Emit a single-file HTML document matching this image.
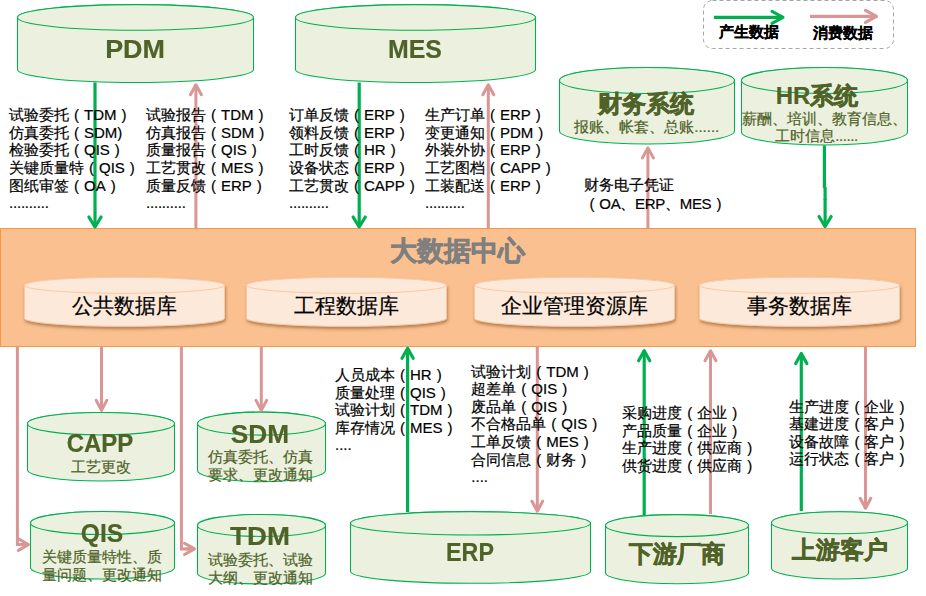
<!DOCTYPE html>
<html><head><meta charset="utf-8"><style>
html,body{margin:0;padding:0;background:#fff;width:926px;height:596px;overflow:hidden;}
body{position:relative;font-family:"Liberation Sans",sans-serif;}
svg{position:absolute;left:0;top:0;}
.t{position:absolute;white-space:nowrap;-webkit-text-stroke:0.2px currentColor;}
.p{display:inline-block;width:1em;text-align:center;}
</style></head><body>
<svg width="926" height="596" viewBox="0 0 926 596">
<defs><filter id="sh" x="-10%" y="-30%" width="120%" height="180%"><feDropShadow dx="0.8" dy="2.2" stdDeviation="1.4" flood-color="#7a4a20" flood-opacity="0.55"/></filter></defs>
<rect x="703.5" y="0.5" width="190" height="48" rx="9" ry="9" fill="none" stroke="#a6a6a6" stroke-width="1" stroke-dasharray="4,3"/>
<line x1="714" y1="17.4" x2="783.00" y2="17.40" stroke="#00b050" stroke-width="3.1"/><polyline points="772.00,23.40 783.00,17.40 772.00,11.40" fill="none" stroke="#00b050" stroke-width="3.1" stroke-linecap="round" stroke-linejoin="round"/>
<line x1="810" y1="16.4" x2="876.50" y2="16.40" stroke="#d99694" stroke-width="3.1"/><polyline points="865.50,22.40 876.50,16.40 865.50,10.40" fill="none" stroke="#d99694" stroke-width="3.1" stroke-linecap="round" stroke-linejoin="round"/>
<path d="M17.5,17.4 L17.5,69.6 A118.0,12.8 0 0 0 253.5,69.6 L253.5,17.4 A118.0,12.8 0 0 0 17.5,17.4 Z" fill="#ebf1de" stroke="#00b050" stroke-width="1.05" /><ellipse cx="135.5" cy="17.4" rx="118.0" ry="12.8" fill="#ebf1de" stroke="#00b050" stroke-width="1.05"/>
<path d="M295.5,17.4 L295.5,69.6 A120.0,12.8 0 0 0 535.5,69.6 L535.5,17.4 A120.0,12.8 0 0 0 295.5,17.4 Z" fill="#ebf1de" stroke="#00b050" stroke-width="1.05" /><ellipse cx="415.5" cy="17.4" rx="120.0" ry="12.8" fill="#ebf1de" stroke="#00b050" stroke-width="1.05"/>
<path d="M559.5,80.5 L559.5,131 A87.5,13 0 0 0 734.5,131 L734.5,80.5 A87.5,13 0 0 0 559.5,80.5 Z" fill="#ebf1de" stroke="#00b050" stroke-width="1.05" /><ellipse cx="647.0" cy="80.5" rx="87.5" ry="13" fill="#ebf1de" stroke="#00b050" stroke-width="1.05"/>
<path d="M741.5,80.5 L741.5,132 A83.0,13 0 0 0 907.5,132 L907.5,80.5 A83.0,13 0 0 0 741.5,80.5 Z" fill="#ebf1de" stroke="#00b050" stroke-width="1.05" /><ellipse cx="824.5" cy="80.5" rx="83.0" ry="13" fill="#ebf1de" stroke="#00b050" stroke-width="1.05"/>
<rect x="0.5" y="228.5" width="915" height="118" fill="#fac090" stroke="#f79646" stroke-width="1"/>
<path d="M24.5,285.3 L24.5,318.3 A100.0,8 0 0 0 224.5,318.3 L224.5,285.3 A100.0,8 0 0 0 24.5,285.3 Z" fill="#fde9d9" stroke="#f9c9a4" stroke-width="1" filter="url(#sh)"/><ellipse cx="124.5" cy="285.3" rx="100.0" ry="8" fill="#fde9d9" stroke="#f9c9a4" stroke-width="1"/>
<path d="M246.5,285.3 L246.5,318.3 A100.0,8 0 0 0 446.5,318.3 L446.5,285.3 A100.0,8 0 0 0 246.5,285.3 Z" fill="#fde9d9" stroke="#f9c9a4" stroke-width="1" filter="url(#sh)"/><ellipse cx="346.5" cy="285.3" rx="100.0" ry="8" fill="#fde9d9" stroke="#f9c9a4" stroke-width="1"/>
<path d="M474.5,285.3 L474.5,318.3 A100.0,8 0 0 0 674.5,318.3 L674.5,285.3 A100.0,8 0 0 0 474.5,285.3 Z" fill="#fde9d9" stroke="#f9c9a4" stroke-width="1" filter="url(#sh)"/><ellipse cx="574.5" cy="285.3" rx="100.0" ry="8" fill="#fde9d9" stroke="#f9c9a4" stroke-width="1"/>
<path d="M699.5,285.3 L699.5,318.3 A100.0,8 0 0 0 899.5,318.3 L899.5,285.3 A100.0,8 0 0 0 699.5,285.3 Z" fill="#fde9d9" stroke="#f9c9a4" stroke-width="1" filter="url(#sh)"/><ellipse cx="799.5" cy="285.3" rx="100.0" ry="8" fill="#fde9d9" stroke="#f9c9a4" stroke-width="1"/>
<path d="M27.5,423.7 L27.5,469.8 A73.5,11.2 0 0 0 174.5,469.8 L174.5,423.7 A73.5,11.2 0 0 0 27.5,423.7 Z" fill="#ebf1de" stroke="#00b050" stroke-width="1.05" /><ellipse cx="101.0" cy="423.7" rx="73.5" ry="11.2" fill="#ebf1de" stroke="#00b050" stroke-width="1.05"/>
<path d="M197.5,423.6 L197.5,470.2 A64.0,11.5 0 0 0 325.5,470.2 L325.5,423.6 A64.0,11.5 0 0 0 197.5,423.6 Z" fill="#ebf1de" stroke="#00b050" stroke-width="1.05" /><ellipse cx="261.5" cy="423.6" rx="64.0" ry="11.5" fill="#ebf1de" stroke="#00b050" stroke-width="1.05"/>
<path d="M30.5,523 L30.5,567.5 A72.0,11.5 0 0 0 174.5,567.5 L174.5,523 A72.0,11.5 0 0 0 30.5,523 Z" fill="#ebf1de" stroke="#00b050" stroke-width="1.05" /><ellipse cx="102.5" cy="523" rx="72.0" ry="11.5" fill="#ebf1de" stroke="#00b050" stroke-width="1.05"/>
<path d="M197.5,525.4 L197.5,572.9 A64.0,11 0 0 0 325.5,572.9 L325.5,525.4 A64.0,11 0 0 0 197.5,525.4 Z" fill="#ebf1de" stroke="#00b050" stroke-width="1.05" /><ellipse cx="261.5" cy="525.4" rx="64.0" ry="11" fill="#ebf1de" stroke="#00b050" stroke-width="1.05"/>
<path d="M350.5,523.3 L350.5,571.6 A120.0,11.7 0 0 0 590.5,571.6 L590.5,523.3 A120.0,11.7 0 0 0 350.5,523.3 Z" fill="#ebf1de" stroke="#00b050" stroke-width="1.05" /><ellipse cx="470.5" cy="523.3" rx="120.0" ry="11.7" fill="#ebf1de" stroke="#00b050" stroke-width="1.05"/>
<path d="M605.5,525.6 L605.5,572.7 A71.5,11 0 0 0 748.5,572.7 L748.5,525.6 A71.5,11 0 0 0 605.5,525.6 Z" fill="#ebf1de" stroke="#00b050" stroke-width="1.05" /><ellipse cx="677.0" cy="525.6" rx="71.5" ry="11" fill="#ebf1de" stroke="#00b050" stroke-width="1.05"/>
<path d="M771.5,522.7 L771.5,568 A68.0,11 0 0 0 907.5,568 L907.5,522.7 A68.0,11 0 0 0 771.5,522.7 Z" fill="#ebf1de" stroke="#00b050" stroke-width="1.05" /><ellipse cx="839.5" cy="522.7" rx="68.0" ry="11" fill="#ebf1de" stroke="#00b050" stroke-width="1.05"/>
<line x1="95" y1="82.5" x2="95.00" y2="227.00" stroke="#00b050" stroke-width="3.2"/><polyline points="88.90,217.00 95.00,227.00 101.10,217.00" fill="none" stroke="#00b050" stroke-width="3.2" stroke-linecap="round" stroke-linejoin="round"/>
<line x1="359.2" y1="82.5" x2="359.20" y2="227.00" stroke="#00b050" stroke-width="3.2"/><polyline points="353.10,217.00 359.20,227.00 365.30,217.00" fill="none" stroke="#00b050" stroke-width="3.2" stroke-linecap="round" stroke-linejoin="round"/>
<polyline points="824.4,145.5 824.4,187 825.1,188 825.1,200" fill="none" stroke="#00b050" stroke-width="3.2"/>
<line x1="825.1" y1="199" x2="825.10" y2="226.50" stroke="#00b050" stroke-width="3.2"/><polyline points="819.00,216.50 825.10,226.50 831.20,216.50" fill="none" stroke="#00b050" stroke-width="3.2" stroke-linecap="round" stroke-linejoin="round"/>
<line x1="407.6" y1="512" x2="407.60" y2="348.30" stroke="#00b050" stroke-width="3.2"/><polyline points="413.20,358.30 407.60,348.30 402.00,358.30" fill="none" stroke="#00b050" stroke-width="3.2" stroke-linecap="round" stroke-linejoin="round"/>
<line x1="644.2" y1="515.5" x2="644.20" y2="350.70" stroke="#00b050" stroke-width="3.2"/><polyline points="649.80,360.70 644.20,350.70 638.60,360.70" fill="none" stroke="#00b050" stroke-width="3.2" stroke-linecap="round" stroke-linejoin="round"/>
<line x1="801.3" y1="511" x2="801.30" y2="353.50" stroke="#00b050" stroke-width="3.2"/><polyline points="806.90,363.50 801.30,353.50 795.70,363.50" fill="none" stroke="#00b050" stroke-width="3.2" stroke-linecap="round" stroke-linejoin="round"/>
<line x1="195.9" y1="228" x2="195.90" y2="84.80" stroke="#d99694" stroke-width="3"/><polyline points="201.40,94.80 195.90,84.80 190.40,94.80" fill="none" stroke="#d99694" stroke-width="3" stroke-linecap="round" stroke-linejoin="round"/>
<line x1="488.3" y1="228" x2="488.30" y2="84.80" stroke="#d99694" stroke-width="3"/><polyline points="493.80,94.80 488.30,84.80 482.80,94.80" fill="none" stroke="#d99694" stroke-width="3" stroke-linecap="round" stroke-linejoin="round"/>
<line x1="647.9" y1="228" x2="647.90" y2="147.90" stroke="#d99694" stroke-width="3"/><polyline points="653.40,157.90 647.90,147.90 642.40,157.90" fill="none" stroke="#d99694" stroke-width="3" stroke-linecap="round" stroke-linejoin="round"/>
<line x1="101.5" y1="346.5" x2="101.50" y2="410.40" stroke="#d99694" stroke-width="3"/><polyline points="96.20,400.40 101.50,410.40 106.80,400.40" fill="none" stroke="#d99694" stroke-width="3" stroke-linecap="round" stroke-linejoin="round"/>
<line x1="261.3" y1="346.5" x2="261.30" y2="410.40" stroke="#d99694" stroke-width="3"/><polyline points="256.00,400.40 261.30,410.40 266.60,400.40" fill="none" stroke="#d99694" stroke-width="3" stroke-linecap="round" stroke-linejoin="round"/>
<line x1="537.3" y1="346.5" x2="537.30" y2="511.20" stroke="#d99694" stroke-width="3"/><polyline points="532.00,501.20 537.30,511.20 542.60,501.20" fill="none" stroke="#d99694" stroke-width="3" stroke-linecap="round" stroke-linejoin="round"/>
<line x1="710.5" y1="514" x2="710.50" y2="350.70" stroke="#d99694" stroke-width="3"/><polyline points="716.00,360.70 710.50,350.70 705.00,360.70" fill="none" stroke="#d99694" stroke-width="3" stroke-linecap="round" stroke-linejoin="round"/>
<line x1="865.5" y1="346.5" x2="865.50" y2="508.30" stroke="#d99694" stroke-width="3"/><polyline points="860.20,498.30 865.50,508.30 870.80,498.30" fill="none" stroke="#d99694" stroke-width="3" stroke-linecap="round" stroke-linejoin="round"/>
<polyline points="17.4,346.5 17.4,544.6 26,544.6" fill="none" stroke="#d99694" stroke-width="3"/>
<line x1="20" y1="544.6" x2="28.40" y2="544.60" stroke="#d99694" stroke-width="3"/><polyline points="18.40,550.40 28.40,544.60 18.40,538.80" fill="none" stroke="#d99694" stroke-width="3" stroke-linecap="round" stroke-linejoin="round"/>
<polyline points="181.4,346.5 181.4,548.9 192,548.9" fill="none" stroke="#d99694" stroke-width="3"/>
<line x1="185" y1="548.9" x2="194.50" y2="548.90" stroke="#d99694" stroke-width="3"/><polyline points="184.50,554.50 194.50,548.90 184.50,543.30" fill="none" stroke="#d99694" stroke-width="3" stroke-linecap="round" stroke-linejoin="round"/>
</svg>
<div class="t" style="left:548.5px;width:400px;text-align:center;top:24.00px;font-size:14.6px;line-height:17.6px;color:#000;font-weight:bold;">产生数据</div>
<div class="t" style="left:643px;width:400px;text-align:center;top:24.80px;font-size:14.6px;line-height:17.6px;color:#000;font-weight:bold;">消费数据</div>
<div class="t" style="left:-65.25px;width:400px;text-align:center;top:35.20px;font-size:25px;line-height:28px;color:#4f6228;font-weight:bold;transform:scaleX(1.075);">PDM</div>
<div class="t" style="left:215.14999999999998px;width:400px;text-align:center;top:35.20px;font-size:25px;line-height:28px;color:#4f6228;font-weight:bold;transform:scaleX(0.994);">MES</div>
<div class="t" style="left:446.20000000000005px;width:400px;text-align:center;top:89.80px;font-size:24px;line-height:28px;color:#4f6228;font-weight:bold;-webkit-text-stroke:0.6px #4f6228;">财务系统</div>
<div class="t" style="left:446.79999999999995px;width:400px;text-align:center;top:118.00px;font-size:15px;line-height:18px;color:#4f6228;font-weight:normal;">报账、帐套、总账......</div>
<div class="t" style="left:617px;width:400px;text-align:center;top:81.60px;font-size:24px;line-height:28px;color:#4f6228;font-weight:bold;">HR<span style="-webkit-text-stroke:0.6px #4f6228">系统</span></div>
<div class="t" style="left:624.2px;width:400px;text-align:center;top:109.95px;font-size:15px;line-height:17.3px;color:#4f6228;font-weight:normal;">薪酬、培训、教育信息、</div>
<div class="t" style="left:616.6px;width:400px;text-align:center;top:127.25px;font-size:15px;line-height:17.3px;color:#4f6228;font-weight:normal;">工时信息<span style="letter-spacing:-0.4px">......</span></div>
<div class="t" style="left:9px;top:106.30px;font-size:15px;line-height:17.6px;color:#000;font-weight:normal;">试验委托<span class="p">(</span>TDM<span class="p">)</span><br>仿真委托<span class="p">(</span>SDM)<br>检验委托<span class="p">(</span>QIS<span class="p">)</span><br>关键质量特<span class="p">(</span>QIS<span class="p">)</span><br>图纸审签<span class="p">(</span>OA<span class="p">)</span><br><span style="letter-spacing:-0.2px">..........</span></div>
<div class="t" style="left:146px;top:106.30px;font-size:15px;line-height:17.6px;color:#000;font-weight:normal;">试验报告<span class="p">(</span>TDM<span class="p">)</span><br>仿真报告<span class="p">(</span>SDM<span class="p">)</span><br>质量报告<span class="p">(</span>QIS<span class="p">)</span><br>工艺贯改<span class="p">(</span>MES<span class="p">)</span><br>质量反馈<span class="p">(</span>ERP<span class="p">)</span><br><span style="letter-spacing:-0.2px">..........</span></div>
<div class="t" style="left:289px;top:106.30px;font-size:15px;line-height:17.6px;color:#000;font-weight:normal;">订单反馈<span class="p">(</span>ERP<span class="p">)</span><br>领料反馈<span class="p">(</span>ERP<span class="p">)</span><br>工时反馈<span class="p">(</span>HR<span class="p">)</span><br>设备状态<span class="p">(</span>ERP<span class="p">)</span><br>工艺贯改<span class="p">(</span>CAPP<span class="p">)</span><br><span style="letter-spacing:-0.2px">..........</span></div>
<div class="t" style="left:425px;top:106.30px;font-size:15px;line-height:17.6px;color:#000;font-weight:normal;">生产订单<span class="p">(</span>ERP<span class="p">)</span><br>变更通知<span class="p">(</span>PDM<span class="p">)</span><br>外装外协<span class="p">(</span>ERP<span class="p">)</span><br>工艺图档<span class="p">(</span>CAPP<span class="p">)</span><br>工装配送<span class="p">(</span>ERP<span class="p">)</span><br><span style="letter-spacing:-0.2px">..........</span></div>
<div class="t" style="left:584.3px;top:175.35px;font-size:15px;line-height:19.3px;color:#000;font-weight:normal;">财务电子凭证</div>
<div class="t" style="left:584.3px;top:194.45px;font-size:15px;line-height:19.3px;color:#000;font-weight:normal;letter-spacing:-0.3px;"><span class="p">(</span>OA、ERP、MES<span class="p">)</span></div>
<div class="t" style="left:257.5px;width:400px;text-align:center;top:235.80px;font-size:26.6px;line-height:30px;color:#7f7f7f;font-weight:bold;-webkit-text-stroke:0.7px #7f7f7f;">大数据中心</div>
<div class="t" style="left:-75.7px;width:400px;text-align:center;top:293.60px;font-size:21.4px;line-height:24px;color:#000;font-weight:normal;">公共数据库</div>
<div class="t" style="left:146.2px;width:400px;text-align:center;top:293.60px;font-size:21.4px;line-height:24px;color:#000;font-weight:normal;">工程数据库</div>
<div class="t" style="left:374.4px;width:400px;text-align:center;top:293.60px;font-size:21.4px;line-height:24px;color:#000;font-weight:normal;">企业管理资源库</div>
<div class="t" style="left:599.3px;width:400px;text-align:center;top:293.60px;font-size:21.4px;line-height:24px;color:#000;font-weight:normal;">事务数据库</div>
<div class="t" style="left:-100.05px;width:400px;text-align:center;top:430.30px;font-size:25px;line-height:26px;color:#4f6228;font-weight:bold;transform:scaleX(0.96);">CAPP</div>
<div class="t" style="left:-99.1px;width:400px;text-align:center;top:458.00px;font-size:15px;line-height:18px;color:#4f6228;font-weight:normal;">工艺更改</div>
<div class="t" style="left:59.60000000000002px;width:400px;text-align:center;top:420.80px;font-size:25px;line-height:26px;color:#4f6228;font-weight:bold;transform:scaleX(1.05);">SDM</div>
<div class="t" style="left:60.5px;width:400px;text-align:center;top:447.60px;font-size:15px;line-height:18.8px;color:#4f6228;font-weight:normal;">仿真委托、仿真<br>要求、更改通知</div>
<div class="t" style="left:-98px;width:400px;text-align:center;top:520.20px;font-size:25px;line-height:26px;color:#4f6228;font-weight:bold;transform:scaleX(0.985);">QIS</div>
<div class="t" style="left:-97.6px;width:400px;text-align:center;top:547.55px;font-size:15px;line-height:18.3px;color:#4f6228;font-weight:normal;">关键质量特性、质<br>量问题、更改通知</div>
<div class="t" style="left:59.55000000000001px;width:400px;text-align:center;top:523.00px;font-size:25px;line-height:26px;color:#4f6228;font-weight:bold;transform:scaleX(1.104);">TDM</div>
<div class="t" style="left:60.69999999999999px;width:400px;text-align:center;top:551.40px;font-size:15px;line-height:17.2px;color:#4f6228;font-weight:normal;">试验委托、试验<br>大纲、更改通知</div>
<div class="t" style="left:270.15px;width:400px;text-align:center;top:538.30px;font-size:25px;line-height:28px;color:#4f6228;font-weight:bold;transform:scaleX(0.93);">ERP</div>
<div class="t" style="left:477px;width:400px;text-align:center;top:539.50px;font-size:24px;line-height:28px;color:#4f6228;font-weight:bold;-webkit-text-stroke:0.6px #4f6228;">下游厂商</div>
<div class="t" style="left:639.7px;width:400px;text-align:center;top:535.90px;font-size:24px;line-height:28px;color:#4f6228;font-weight:bold;-webkit-text-stroke:0.6px #4f6228;">上游客户</div>
<div class="t" style="left:335px;top:366.00px;font-size:15px;line-height:17.6px;color:#000;font-weight:normal;">人员成本<span class="p">(</span>HR<span class="p">)</span><br>质量处理<span class="p">(</span>QIS<span class="p">)</span><br>试验计划<span class="p">(</span>TDM<span class="p">)</span><br>库存情况<span class="p">(</span>MES<span class="p">)</span><br>....</div>
<div class="t" style="left:471.3px;top:362.60px;font-size:15px;line-height:17.6px;color:#000;font-weight:normal;">试验计划<span class="p">(</span>TDM<span class="p">)</span><br>超差单<span class="p">(</span>QIS<span class="p">)</span><br>废品单<span class="p">(</span>QIS<span class="p">)</span><br>不合格品单<span class="p">(</span>QIS<span class="p">)</span><br>工单反馈<span class="p">(</span>MES<span class="p">)</span><br>合同信息<span class="p">(</span>财务<span class="p">)</span><br>....</div>
<div class="t" style="left:622.2px;top:404.30px;font-size:15px;line-height:17.6px;color:#000;font-weight:normal;">采购进度<span class="p">(</span>企业<span class="p">)</span><br>产品质量<span class="p">(</span>企业<span class="p">)</span><br>生产进度<span class="p">(</span>供应商<span class="p">)</span><br>供货进度<span class="p">(</span>供应商<span class="p">)</span></div>
<div class="t" style="left:789.4px;top:397.50px;font-size:15px;line-height:17.6px;color:#000;font-weight:normal;">生产进度<span class="p">(</span>企业<span class="p">)</span><br>基建进度<span class="p">(</span>客户<span class="p">)</span><br>设备故障<span class="p">(</span>客户<span class="p">)</span><br>运行状态<span class="p">(</span>客户<span class="p">)</span></div>
</body></html>
